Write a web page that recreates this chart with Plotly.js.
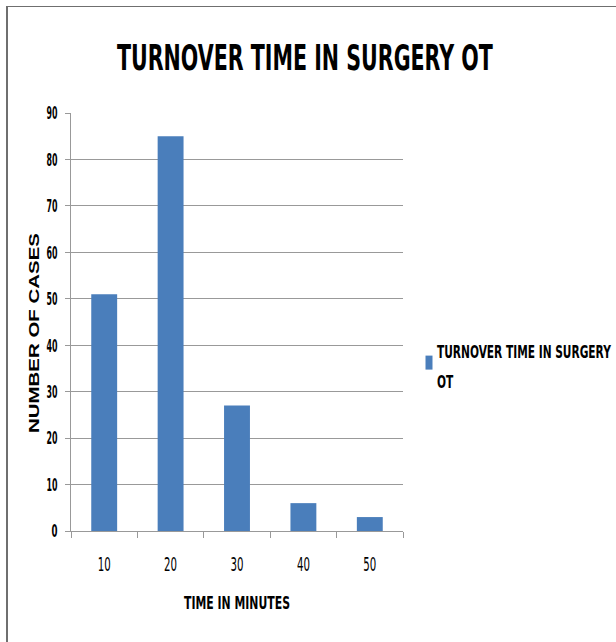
<!DOCTYPE html>
<html>
<head>
<meta charset="utf-8">
<script src="https://cdn.plot.ly/plotly-3.0.1.min.js"></script>
<style>
html,body{margin:0;padding:0;background:#fff;}
#wrap{position:relative;width:616px;height:642px;overflow:hidden;}
#chart{width:616px;height:642px;}
#frame{position:absolute;left:6px;top:6px;width:700px;height:700px;border-left:2px solid #6f6f6f;border-top:1px solid #6f6f6f;pointer-events:none;}
</style>
</head>
<body>
<div id="wrap"><div id="chart"></div><div id="frame"></div></div>
<script>
var categories = ["10", "20", "30", "40", "50"];
var cases = [51, 85, 27, 6, 3];
var yTicks = [0, 10, 20, 30, 40, 50, 60, 70, 80, 90];
var seriesName = "TURNOVER TIME IN SURGERY<br>OT";

var narrow = "'DejaVu Sans Condensed', 'Liberation Sans Narrow', sans-serif";

var trace = {
  type: "bar",
  x: categories,
  y: cases,
  name: seriesName,
  marker: {color: "#4A7EBB"},
  showlegend: true
};

var plotW = 616 - 71 - 5;
var layout = {
  width: 616,
  height: 642,
  margin: {l: 71, r: 5, t: 113, b: 111, autoexpand: false},
  paper_bgcolor: "#fff",
  plot_bgcolor: "#fff",
  bargap: 0.61,
  title: {
    text: "<b>TURNOVER TIME IN SURGERY OT</b>",
    font: {family: narrow, size: 36, color: "#000"},
    xref: "container", x: 0.495, xanchor: "center",
    yref: "container", y: 0.911, yanchor: "middle"
  },
  xaxis: {
    type: "category",
    domain: [0, 332 / plotW],
    tickson: "boundaries",
    ticks: "outside",
    ticklen: 6,
    tickcolor: "#999",
    showline: true,
    linecolor: "#999",
    linewidth: 1,
    showgrid: false,
    ticklabelstandoff: 16,
    tickfont: {family: narrow, size: 19, color: "#000"},
    title: {text: "<b>TIME IN MINUTES</b>", font: {family: narrow, size: 18, color: "#000"}, standoff: 22},
    fixedrange: true
  },
  yaxis: {
    range: [0, 90],
    tickvals: yTicks,
    ticks: "outside",
    ticklen: 5,
    tickcolor: "#999",
    showline: true,
    linecolor: "#999",
    showgrid: true,
    gridcolor: "#999",
    gridwidth: 1,
    zeroline: false,
    ticklabelstandoff: 4,
    tickfont: {family: narrow, size: 18, weight: "bold", color: "#000"},
    title: {text: "<b>NUMBER OF CASES</b>", font: {family: "'Liberation Sans', Arial, sans-serif", size: 14, color: "#000"}, standoff: 6},
    fixedrange: true
  },
  legend: {
    x: (397 - 71) / plotW, xanchor: "left",
    y: (531 - 334) / 418, yanchor: "top",
    font: {family: narrow, size: 17, weight: "bold", color: "#000"},
    itemwidth: 30,
    bgcolor: "rgba(0,0,0,0)"
  }
};

function fit(el, w) {
  if (!el) return;
  el.setAttribute("textLength", w);
  el.setAttribute("lengthAdjust", "spacingAndGlyphs");
}

// squeeze a text horizontally around its anchor point with a transform
function squeeze(el, target, natural) {
  if (!el) return;
  var nat = natural || el.getComputedTextLength();
  if (!nat) return;
  var s = target / nat;
  var ax = parseFloat(el.getAttribute("x")) || 0;
  var prev = el.getAttribute("transform") || "";
  el.setAttribute("transform", prev + " translate(" + ax + ",0) scale(" + s + ",1) translate(" + (-ax) + ",0)");
}

Plotly.newPlot("chart", [trace], layout, {displayModeBar: false, staticPlot: true}).then(function (gd) {
  squeeze(gd.querySelector(".gtitle"), 376);
  squeeze(gd.querySelector(".xtitle"), 106);
  var yt = gd.querySelector(".ytitle");
  if (yt) {
    fit(yt, 200);
    yt.setAttribute("x", 39);
    yt.setAttribute("y", 333);
    yt.setAttribute("transform", "rotate(-90,39,333)");
  }
  var lt = gd.querySelector(".legendtext");
  var lines = gd.querySelectorAll(".legendtext tspan.line");
  if (lt && lines.length > 1) {
    var nat = lines[0].getComputedTextLength();
    lines[1].setAttribute("dy", "1.75em");
    squeeze(lt, 174, nat);
  }
  var pts = gd.querySelector(".legendpoints");
  if (pts) {
    pts.setAttribute("transform", "translate(12,0)");
    var p = pts.querySelector("path");
    if (p) p.setAttribute("d", "M3.5,7H-3.5V-7H3.5Z");
  }
  gd.querySelectorAll(".ytick text").forEach(function (t) { fit(t, t.textContent.length === 1 ? 6 : 11); });
  gd.querySelectorAll(".xtick text").forEach(function (t) { fit(t, 13); });
});
</script>
</body>
</html>
